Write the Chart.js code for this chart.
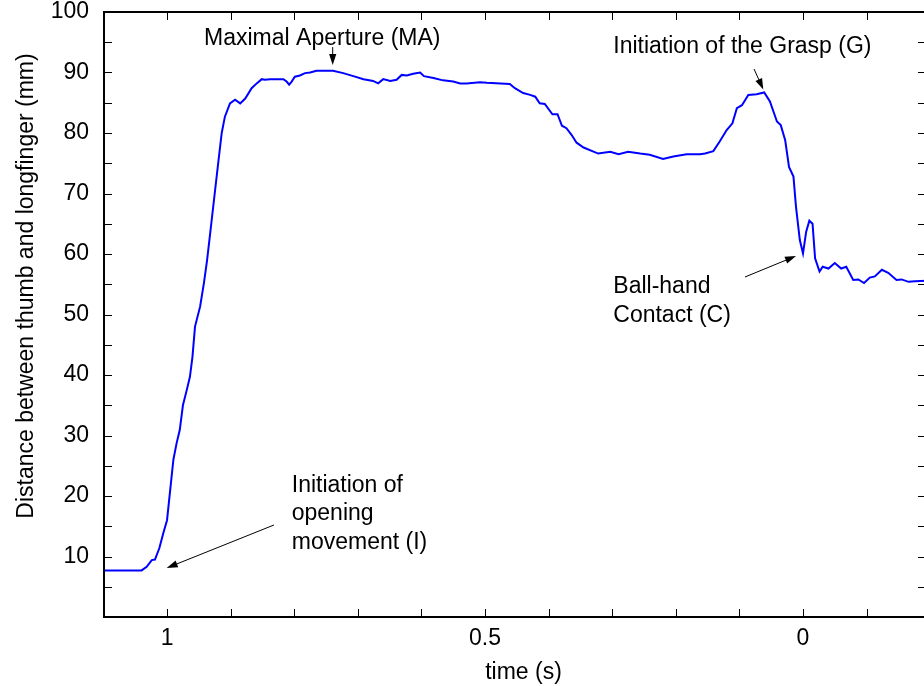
<!DOCTYPE html>
<html>
<head>
<meta charset="utf-8">
<script src="https://cdn.jsdelivr.net/npm/chart.js@4.4.1/dist/chart.umd.min.js"></script>
<style>
  html, body { margin: 0; padding: 0; background: #fff; overflow: hidden; }
  #wrap { width: 924px; height: 686px; overflow: hidden; }
</style>
</head>
<body>
<div id="wrap"><canvas id="aperture" width="930" height="686"></canvas></div>
<script>
// time before contact (s)
const time = [
  1.099, 1.040, 1.032, 1.024, 1.019, 1.012, 1.006, 1.000, 0.995, 0.990,
  0.985, 0.980, 0.975, 0.969, 0.964, 0.960, 0.956, 0.948, 0.942, 0.937,
  0.931, 0.925, 0.919, 0.914, 0.909, 0.901, 0.893, 0.885, 0.877, 0.867,
  0.859, 0.851, 0.846, 0.838, 0.817, 0.812, 0.808, 0.804, 0.799, 0.791,
  0.783, 0.775, 0.765, 0.739, 0.723, 0.707, 0.691, 0.676, 0.668, 0.660,
  0.649, 0.639, 0.631, 0.623, 0.613, 0.602, 0.596, 0.581, 0.566, 0.550,
  0.539, 0.529, 0.508, 0.497, 0.461, 0.453, 0.440, 0.429, 0.421, 0.414,
  0.406, 0.394, 0.386, 0.379, 0.372, 0.364, 0.356, 0.345, 0.322, 0.303,
  0.290, 0.275, 0.256, 0.241, 0.220, 0.204, 0.183, 0.162, 0.154, 0.141,
  0.131, 0.120, 0.111, 0.104, 0.096, 0.086, 0.073, 0.061, 0.052, 0.041,
  0.035, 0.028, 0.022, 0.015, 0.011, 0.005, 0.000, -0.005, -0.010, -0.015,
  -0.019, -0.026, -0.031, -0.040, -0.050, -0.060, -0.068, -0.079, -0.087, -0.096,
  -0.105, -0.113, -0.124, -0.134, -0.147, -0.155, -0.166, -0.176, -0.195
];
// distance between thumb and long finger (mm)
const distance = [
  7.7, 7.7, 8.3, 9.4, 9.5, 11.4, 13.8, 16.0, 21.0, 26.0,
  28.7, 30.9, 35.0, 37.5, 39.7, 43.0, 48.0, 51.3, 55.2, 59.0,
  64.5, 70.0, 75.5, 80.0, 82.7, 84.9, 85.5, 84.9, 85.7, 87.4,
  88.2, 88.9, 88.8, 88.9, 88.9, 88.5, 88.0, 88.5, 89.3, 89.5,
  89.9, 90.0, 90.3, 90.3, 89.9, 89.4, 88.9, 88.6, 88.2, 88.9,
  88.6, 88.8, 89.6, 89.5, 89.8, 90.0, 89.4, 89.1, 88.7, 88.5,
  88.2, 88.2, 88.4, 88.3, 88.1, 87.4, 86.6, 86.3, 86.0, 84.9,
  84.8, 83.1, 83.1, 81.2, 80.8, 79.7, 78.4, 77.6, 76.6, 76.9,
  76.5, 76.9, 76.6, 76.4, 75.7, 76.1, 76.5, 76.5, 76.6, 77.0,
  78.6, 80.5, 81.6, 84.1, 84.6, 86.3, 86.4, 86.7, 85.2, 81.9,
  81.3, 78.8, 74.4, 72.8, 67.8, 62.3, 60.1, 63.7, 65.5, 65.0,
  59.3, 57.1, 57.9, 57.6, 58.5, 57.6, 57.9, 55.7, 55.8, 55.2,
  56.1, 56.3, 57.4, 56.9, 55.7, 55.8, 55.4, 55.5, 55.6
];

const xTicks = [1, 0.9, 0.8, 0.7, 0.6, 0.5, 0.4, 0.3, 0.2, 0.1, 0, -0.1];
const xLabels = [1, 0.5, 0];
const yTicks = [0, 5, 10, 15, 20, 25, 30, 35, 40, 45, 50, 55, 60, 65, 70, 75, 80, 85, 90, 95, 100];
const yLabels = [10, 20, 30, 40, 50, 60, 70, 80, 90, 100];

// annotation texts with arrows, placed in data units (time, mm)
const notes = [
  { lines: ['Maximal Aperture (MA)'], at: [0.9418, 94.55], from: [0.7395, 94.2], to: [0.7395, 91.24] },
  { lines: ['Initiation of the Grasp (G)'], at: [0.2983, 93.27], from: [0.0770, 90.58], to: [0.0624, 87.19] },
  { lines: ['Ball-hand', 'Contact (C)'], at: [0.2983, 53.5], from: [0.0912, 56.2], to: [0.011, 59.67] },
  { lines: ['Initiation of', 'opening', 'movement (I)'], at: [0.8039, 20.71], from: [0.8318, 15.21], to: [1.0005, 8.1] }
];

const FONT = '"Liberation Sans", Arial, sans-serif';
const TICK = 8;

function arrow(ctx, x1, y1, x2, y2) {
  const ang = Math.atan2(y2 - y1, x2 - x1);
  const len = 11, half = 3.6;
  ctx.beginPath();
  ctx.moveTo(x1, y1);
  ctx.lineTo(x2 - Math.cos(ang) * len * 0.8, y2 - Math.sin(ang) * len * 0.8);
  ctx.stroke();
  ctx.beginPath();
  ctx.moveTo(x2, y2);
  ctx.lineTo(x2 - Math.cos(ang) * len - Math.sin(ang) * half, y2 - Math.sin(ang) * len + Math.cos(ang) * half);
  ctx.lineTo(x2 - Math.cos(ang) * len + Math.sin(ang) * half, y2 - Math.sin(ang) * len - Math.cos(ang) * half);
  ctx.closePath();
  ctx.fill();
}

const frame = {
  id: 'frame',
  afterDatasetsDraw(chart) {
    const { ctx, chartArea: a, scales: { x, y } } = chart;
    ctx.save();
    ctx.strokeStyle = '#000';
    ctx.fillStyle = '#000';

    // inward tick marks on all four sides
    ctx.lineWidth = 1;
    ctx.beginPath();
    xTicks.forEach(v => {
      const px = Math.round(x.getPixelForValue(v)) + 0.5;
      ctx.moveTo(px, a.bottom); ctx.lineTo(px, a.bottom - TICK);
      ctx.moveTo(px, a.top); ctx.lineTo(px, a.top + TICK);
    });
    yTicks.forEach(v => {
      const py = Math.round(y.getPixelForValue(v)) + 0.5;
      ctx.moveTo(a.left, py); ctx.lineTo(a.left + TICK, py);
      ctx.moveTo(a.right, py); ctx.lineTo(a.right - TICK, py);
    });
    ctx.stroke();

    ctx.lineWidth = 2;
    ctx.strokeRect(a.left, a.top, a.right - a.left, a.bottom - a.top);

    // axis titles
    ctx.font = '23px ' + FONT;
    ctx.textAlign = 'center';
    ctx.textBaseline = 'alphabetic';
    ctx.fillText('time (s)', 523.5, 679);
    ctx.save();
    ctx.translate(33, 286);
    ctx.rotate(-Math.PI / 2);
    ctx.fillText('Distance between thumb and longfinger (mm)', 0, 0);
    ctx.restore();

    // annotations
    ctx.textAlign = 'left';
    ctx.lineWidth = 1;
    notes.forEach(n => {
      const tx = x.getPixelForValue(n.at[0]);
      const ty = y.getPixelForValue(n.at[1]);
      n.lines.forEach((line, i) => ctx.fillText(line, tx, ty + i * 28.6));
      arrow(ctx,
        x.getPixelForValue(n.from[0]), y.getPixelForValue(n.from[1]),
        x.getPixelForValue(n.to[0]), y.getPixelForValue(n.to[1]));
    });
    ctx.restore();
  }
};

const noOverhang = s => {
  s.paddingTop = 0; s.paddingBottom = 0;
  s.paddingLeft = 0; s.paddingRight = 0;
};

document.addEventListener('DOMContentLoaded', () => {
  const canvas = document.getElementById('aperture');

  new Chart(canvas, {
    type: 'line',
    data: {
      datasets: [{
        data: time.map((t, i) => ({ x: t, y: distance[i] })),
        borderColor: '#0000ff',
        borderWidth: 2,
        pointRadius: 0,
        tension: 0,
        fill: false
      }]
    },
    options: {
      responsive: false,
      animation: false,
      layout: { padding: { top: 12, right: 4, left: 0, bottom: 0 } },
      plugins: { legend: { display: false }, tooltip: { enabled: false } },
      scales: {
        x: {
          type: 'linear',
          reverse: true,
          min: -0.1934,
          max: 1.0991,
          grid: { display: false, drawTicks: false },
          border: { display: false },
          afterBuildTicks: s => { s.ticks = xTicks.map(v => ({ value: v })); },
          afterFit: s => { s.height = 69; noOverhang(s); },
          ticks: {
            autoSkip: false,
            maxRotation: 0,
            padding: 10,
            color: '#000',
            font: { family: FONT, size: 23, lineHeight: 1 },
            callback: v => xLabels.includes(v) ? String(v) : ''
          }
        },
        y: {
          min: 0,
          max: 100,
          grid: { display: false, drawTicks: false },
          border: { display: false },
          afterBuildTicks: s => { s.ticks = yTicks.map(v => ({ value: v })); },
          afterFit: s => { s.width = 104; noOverhang(s); },
          ticks: {
            padding: 15,
            color: '#000',
            font: { family: FONT, size: 23, lineHeight: 1 },
            callback: v => yLabels.includes(v) ? String(v) : ''
          }
        }
      }
    },
    plugins: [frame]
  });
});
</script>
</body>
</html>
